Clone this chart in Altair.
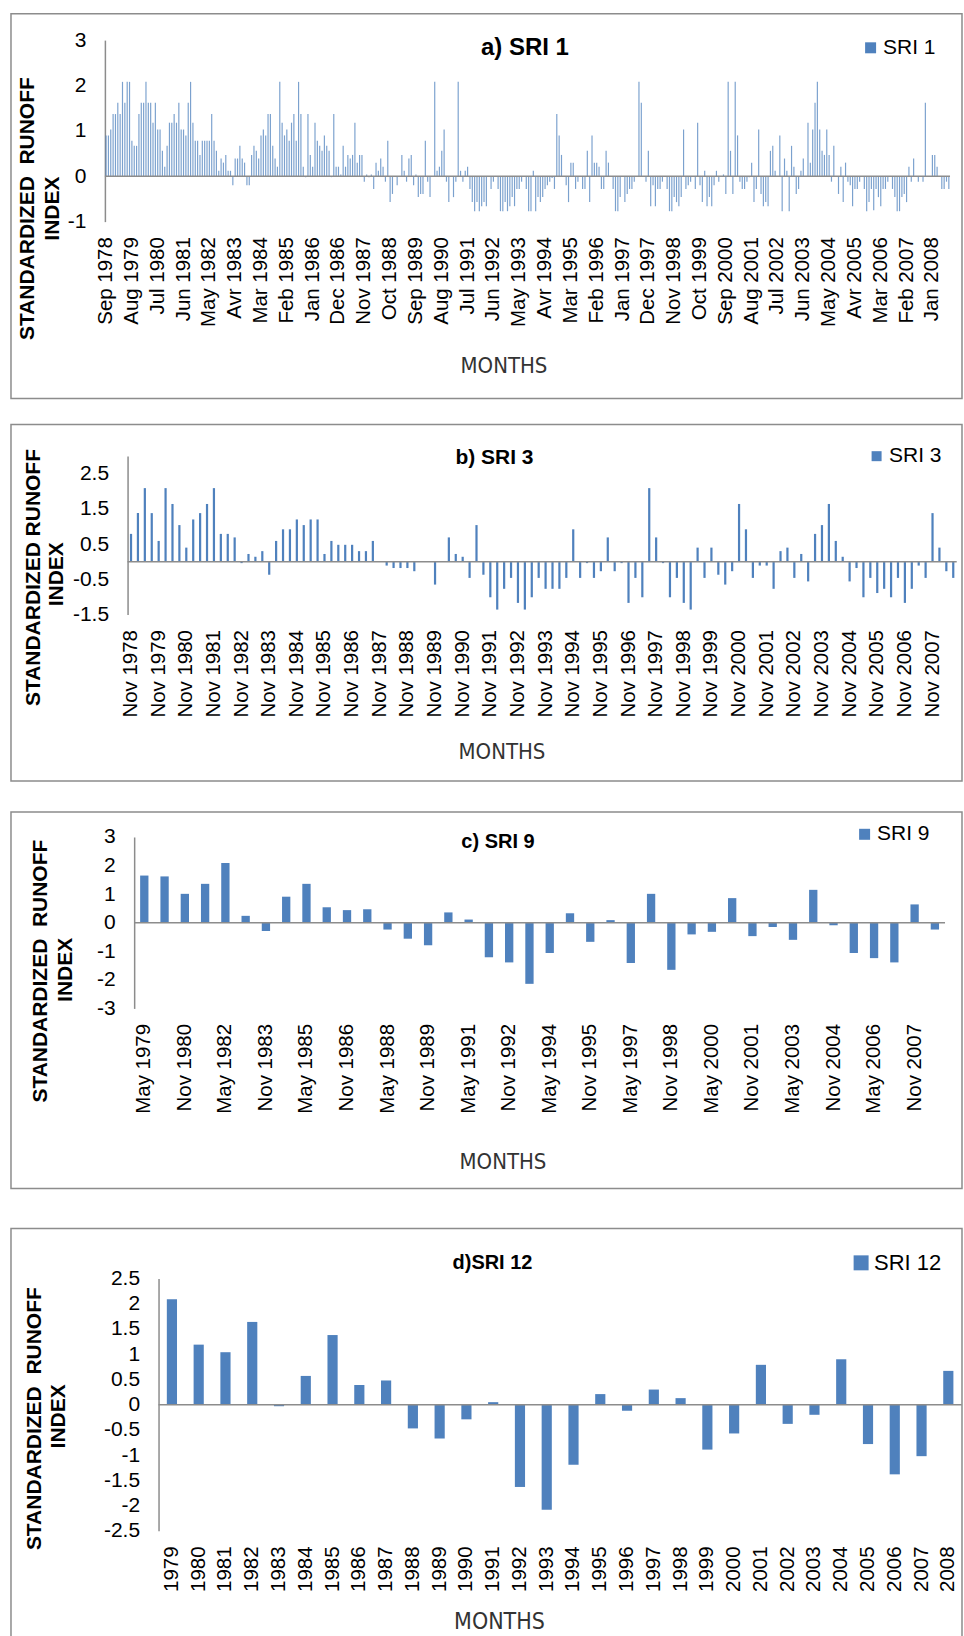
import altair as alt
import pandas as pd

FONT = "Liberation Sans, Arial, Helvetica, sans-serif"
NARROW = "Liberation Sans Narrow, Arial Narrow, DejaVu Sans Condensed, sans-serif"
BLUE = "#4F81BD"
GREY = "#8C8C8C"

MONTH_NAMES = ["Jan", "Feb", "Mar", "Avr", "May", "Jun",
               "Jul", "Aug", "Sep", "Oct", "Nov", "Dec"]

# SRI 1: monthly values, Sep 1978 - Aug 2008 (one row per hydrological year)
sri1 = [
    0.9, 0.9, 1.03, 1.37, 1.37, 1.62, 1.37, 2.08, 1.62, 2.08, 2.08, 0.78,
    0.67, 0.67, 1.37, 1.62, 1.62, 2.08, 1.62, 1.62, 1.18, 1.62, 1.03, 1.03,
    0.56, 0.21, 0.67, 1.18, 1.18, 1.37, 1.18, 1.62, 1.03, 1.03, 0.9, 1.62,
    2.08, 1.18, 0.78, 0.78, 0.47, 0.78, 0.78, 0.78, 0.78, 1.37, 0.78, 0.56,
    0.12, 0.39, 0.3, 0.47, 0.12, 0.12, -0.2, 0.39, 0.39, 0.67, 0.39, 0.3,
    -0.2, -0.2, 0.47, 0.67, 0.56, 0.39, 0.9, 1.03, 0.9, 1.37, 1.37, 0.67,
    0.39, 0.21, 2.08, 1.18, 0.9, 1.03, 0.78, 1.18, 1.37, 0.78, 2.08, 1.37,
    0.21, -0.02, 1.37, 0.47, 0.21, 1.18, 0.78, 0.67, 0.56, 0.9, 0.67, 0.56,
    -0.02, 1.37, 0.21, 0.21, 0.04, 0.67, 0.21, 0.47, 0.39, 0.47, 1.18, 0.3,
    0.47, 0.47, -0.12, 0.04, -0.02, 0.04, -0.28, 0.3, 0.12, 0.39, 0.21, -0.12,
    0.78, -0.57, -0.39, 0.0, -0.2, 0.0, 0.47, 0.12, -0.12, 0.39, 0.47, -0.2,
    0.04, -0.46, -0.39, -0.39, 0.78, -0.12, -0.46, 0.0, 2.08, 0.12, 0.21, 0.56,
    1.03, -0.12, -0.57, 0.0, -0.46, -0.12, 2.08, 0.12, -0.12, 0.12, 0.21, -0.28,
    -0.57, -0.77, -0.57, -0.77, -0.66, -0.57, -0.66, 0.0, -0.28, -0.12, 0.0, -0.28,
    -0.77, -0.77, -0.57, -0.77, -0.66, -0.46, -0.66, -0.28, -0.28, -0.12, 0.0, -0.28,
    -0.77, -0.77, 0.12, -0.77, -0.46, -0.57, -0.46, -0.28, -0.2, -0.12, -0.04, -0.28,
    1.37, 0.9, 0.47, 0.0, -0.2, -0.57, 0.3, 0.3, -0.28, -0.12, 0.0, -0.28,
    -0.28, 0.56, -0.57, 0.9, 0.3, 0.3, 0.21, -0.28, -0.28, 0.56, 0.3, 0.0,
    -0.28, -0.77, -0.77, -0.46, 0.0, -0.57, -0.39, -0.28, -0.28, -0.12, 0.0, 2.08,
    1.62, 0.0, -0.12, 0.56, -0.66, -0.2, -0.66, -0.28, -0.28, -0.12, 0.0, -0.28,
    -0.77, -0.77, -0.46, -0.57, -0.66, -0.46, 1.03, -0.28, -0.2, -0.12, 0.0, -0.28,
    1.18, -0.2, -0.57, 0.12, -0.66, -0.46, -0.66, -0.2, 0.12, -0.12, 0.0, 0.04,
    -0.39, 2.08, 0.56, -0.39, 2.08, 0.9, -0.12, -0.28, -0.28, -0.12, -0.02, 0.3,
    -0.57, -0.28, 1.03, -0.39, -0.66, -0.57, -0.66, 0.56, 0.67, 0.12, 0.0, 0.9,
    -0.77, 0.39, 0.12, -0.77, 0.67, 0.21, -0.39, -0.28, 0.12, 0.39, 0.0, 1.18,
    0.3, 1.03, 1.62, 2.08, 1.03, 0.56, 0.47, 1.03, 0.47, -0.12, 0.67, 0.0,
    -0.39, 0.21, -0.57, 0.3, -0.12, -0.2, -0.66, -0.28, -0.28, -0.12, 0.0, -0.28,
    -0.77, -0.57, -0.28, -0.75, -0.28, -0.46, -0.66, -0.28, -0.28, -0.12, 0.0, -0.28,
    -0.46, -0.77, -0.77, -0.46, -0.39, -0.57, 0.21, -0.12, 0.39, 0.0, -0.12, 0.0,
    -0.12, 1.62, 0.0, 0.0, 0.47, 0.47, 0.21, 0.0, -0.28, -0.28, -0.12, -0.28,
]

# SRI 3: quarterly values starting Nov 1978 (Nov, Feb, May, Aug)
sri3 = [
    0.79, 1.38, 2.09, 1.38, 0.59, 2.09, 1.64, 1.04, 0.4, 1.2, 1.38, 1.64,
    2.09, 0.79, 0.79, 0.69, -0.04, 0.22, 0.14, 0.3, -0.37, 0.59, 0.92, 0.92,
    1.2, 1.04, 1.2, 1.2, 0.22, 0.59, 0.48, 0.48, 0.48, 0.3, 0.3, 0.59,
    0.01, -0.11, -0.18, -0.18, -0.18, -0.27, 0.0, 0.0, -0.65, 0.0, 0.69, 0.22,
    0.14, -0.46, 1.04, -0.37, -1.01, -1.36, -0.77, -0.46, -1.17, -1.36, -1.01, -0.46,
    -0.77, -0.77, -0.77, -0.46, 0.92, -0.46, -0.04, -0.46, -0.27, 0.69, -0.27, -0.04,
    -1.17, -0.46, -1.01, 2.09, 0.69, -0.04, -1.01, -0.46, -1.17, -1.36, 0.4, -0.46,
    0.4, -0.37, -0.65, -0.27, 1.64, 0.92, -0.46, -0.11, -0.11, -0.77, 0.3, 0.4,
    -0.46, 0.22, -0.56, 0.79, 1.04, 1.64, 0.59, 0.14, -0.56, -0.18, -1.01, -0.46,
    -0.89, -0.77, -1.01, -0.46, -1.17, -0.77, -0.11, -0.46, 1.38, 0.4, -0.27, -0.46,
]

# SRI 9: values every 9 months starting May 1979
sri9 = [
    1.65, 1.62, 1.01, 1.36, 2.09, 0.24, -0.29, 0.91, 1.36, 0.54,
    0.44, 0.47, -0.24, -0.56, -0.79, 0.36, 0.11, -1.21, -1.39, -2.14,
    -1.06, 0.33, -0.67, 0.09, -1.41, 1.01, -1.65, -0.41, -0.32, 0.86,
    -0.47, -0.15, -0.6, 1.15, -0.09, -1.06, -1.24, -1.39, 0.64, -0.24,
]

# SRI 12: yearly values
years = [str(y) for y in range(1979, 2009)]
sri12 = [
    2.09, 1.19, 1.04, 1.64, -0.03, 0.57, 1.38, 0.39, 0.48, -0.47,
    -0.67, -0.29, 0.05, -1.63, -2.08, -1.19, 0.21, -0.12, 0.30, 0.13,
    -0.89, -0.57, 0.79, -0.38, -0.2, 0.9, -0.78, -1.38, -1.02, 0.67,
]


def month_series(year, month, count, step):
    """Category names 'Mon YYYY', one every `step` months."""
    out = []
    for _ in range(count):
        out.append(f"{MONTH_NAMES[month - 1]} {year}")
        month += step
        while month > 12:
            month -= 12
            year += 1
    return out


cats1 = month_series(1978, 9, len(sri1), 1)
cats3 = month_series(1978, 11, len(sri3), 3)
cats9 = month_series(1979, 5, len(sri9), 9)

W = 952


def text_layer(text, x, y, size, bold=False, angle=0, baseline="alphabetic",
               color="black", font=FONT):
    return alt.Chart(pd.DataFrame({"t": [text]})).mark_text(
        x=x, y=y, fontSize=size, fontWeight="bold" if bold else "normal",
        angle=angle, align="center", baseline=baseline, color=color, font=font,
    ).encode(text="t:N")


def panel(cats, vals, series, label_step, H, x0, x1, yb, yt, ydom, yticks,
          pad_inner, title, title_xy, title_size, ytitle, ytitle_xy,
          months_xy, months_size, legend_xy, sym, legend_size,
          tick_size=21, xlabel_size=20.5, opacity=1.0):
    df = pd.DataFrame({"period": cats, "value": vals, "series": series})
    bars = alt.Chart(df).mark_bar(opacity=opacity).encode(
        x=alt.X(
            "period:N", sort=cats,
            scale=alt.Scale(range=[x0, x1], paddingInner=pad_inner,
                            paddingOuter=pad_inner / 2),
            axis=alt.Axis(values=cats[::label_step], labelAngle=270,
                          labelAlign="right", labelBaseline="middle",
                          domain=False, ticks=False, labelPadding=15,
                          offset=yb - H, title=None, labelFont=FONT,
                          labelFontSize=xlabel_size, labelColor="black",
                          labelOverlap=False),
        ),
        y=alt.Y(
            "value:Q",
            scale=alt.Scale(domain=ydom, range=[yb, yt], nice=False, zero=False),
            axis=alt.Axis(values=yticks, domain=True, domainColor=GREY,
                          domainWidth=1.5, ticks=False, grid=False,
                          labelPadding=19, offset=-x0, title=None,
                          labelFont=FONT, labelFontSize=tick_size,
                          labelColor="black", labelExpr="'' + datum.value"),
        ),
        color=alt.Color(
            "series:N", scale=alt.Scale(domain=[series], range=[BLUE]),
            legend=alt.Legend(orient="none", legendX=legend_xy[0],
                              legendY=legend_xy[1], title=None,
                              symbolType="square", symbolSize=sym * sym,
                              symbolStrokeWidth=0, symbolOpacity=1,
                              labelFont=FONT, labelFontSize=legend_size,
                              labelColor="black", labelOffset=2, padding=0),
        ),
    )
    zero = alt.Chart(pd.DataFrame({"z": [0]})).mark_rule(
        color=GREY, strokeWidth=1.5
    ).encode(y=alt.Y("z:Q", title=None), x=alt.value(x0), x2=alt.value(x1))

    layers = [
        bars, zero,
        text_layer(title, title_xy[0], title_xy[1], title_size, bold=True),
        text_layer(ytitle, ytitle_xy[0], ytitle_xy[1], 21, bold=True,
                   angle=270, baseline="middle"),
        text_layer("INDEX", ytitle_xy[2], ytitle_xy[3], 21, bold=True,
                   angle=270, baseline="middle"),
        text_layer("MONTHS", months_xy[0], months_xy[1], months_size,
                   baseline="middle", color="#333333", font=NARROW),
    ]
    return alt.layer(*layers).properties(width=W, height=H)


pa = panel(cats1, sri1, "SRI 1", 11, 385, 94, 940, 208, 26.3, [-1, 3],
           [-1, 0, 1, 2, 3], 0.5, "a) SRI 1", (514.5, 41), 24,
           "STANDARDIZED\u00a0 RUNOFF", (17.5, 195, 42.5, 195),
           (493.5, 353), 22, (850, 23.5), 11, 21, opacity=0.75)

pb = panel(cats3, sri3, "SRI 3", 4, 357, 116.7, 946.7, 190.3, 31.7, [-1.5, 3],
           [-1.5, -0.5, 0.5, 1.5, 2.5], 0.68, "b) SRI 3", (484, 39.3), 21,
           "STANDARDIZED RUNOFF", (23.5, 153.3, 46.5, 150),
           (491.5, 327.8), 22, (856, 21.3), 10, 21)

pc = panel(cats9, sri9, "SRI 9", 2, 377, 123.3, 935, 196.6, 25, [-3, 3],
           [-3, -2, -1, 0, 1, 2, 3], 0.59, "c) SRI 9", (487.5, 36.3), 20,
           "STANDARDIZED\u00a0 RUNOFF", (30, 159.3, 55, 158),
           (492.5, 350.3), 22, (844, 11.8), 11, 21)

pd_ = panel(years, sri12, "SRI 12", 1, 413, 147.7, 951.7, 302.6, 50, [-2.5, 2.5],
            [-2.5, -2, -1.5, -1, -0.5, 0, 0.5, 1, 1.5, 2, 2.5], 0.62,
            "d)SRI 12", (482, 40.3), 20,
            "STANDARDIZED\u00a0 RUNOFF", (24.5, 190.3, 48.5, 188),
            (489, 394), 23, (840, 23.3), 15, 22)

top = alt.vconcat(pa, pb, spacing=24).resolve_scale(color="independent") \
    .resolve_legend(color="independent")
bottom = alt.vconcat(pc, pd_, spacing=38).resolve_scale(color="independent") \
    .resolve_legend(color="independent")

chart = alt.vconcat(top, bottom, spacing=29).resolve_scale(
    color="independent"
).resolve_legend(
    color="independent"
).properties(
    padding={"left": 10, "top": 12, "right": 0, "bottom": 0},
    background="white",
).configure_view(
    stroke=GREY, strokeWidth=1.5
)

chart.save("out.html", embed_options={"renderer": "svg", "actions": False})
